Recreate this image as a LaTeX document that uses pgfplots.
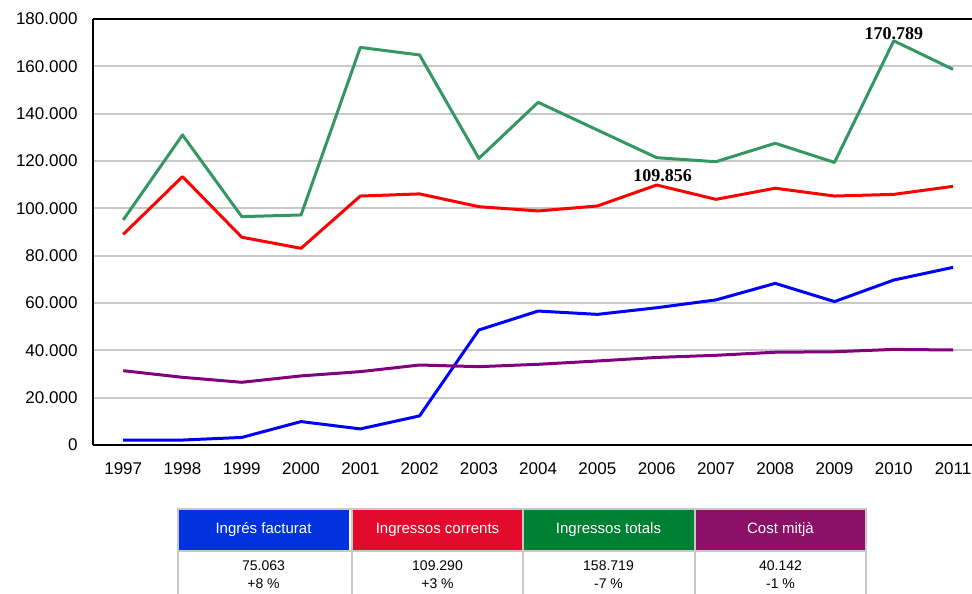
\documentclass[border=0pt]{standalone}
\usepackage{fontspec}
\setmainfont{Liberation Sans}
\newfontfamily\annfont{Liberation Serif}
\usepackage{pgfplots}
\pgfplotsset{compat=1.18}

\definecolor{cblue}{RGB}{0,0,255}
\definecolor{cred}{RGB}{255,0,0}
\definecolor{cgreen}{RGB}{52,150,96}
\definecolor{cpurple}{RGB}{128,0,128}
\definecolor{hblue}{RGB}{0,51,221}
\definecolor{hred}{RGB}{227,11,44}
\definecolor{hgreen}{RGB}{0,128,51}
\definecolor{hpurple}{RGB}{140,16,102}
\definecolor{gridc}{RGB}{200,200,200}

\begin{document}
\begin{tikzpicture}
\path[use as bounding box] (0pt,0pt) rectangle (972pt,-594pt);
\begin{axis}[
  at={(93pt,-445pt)}, anchor=south west,
  width=879pt, height=426pt, scale only axis,
  xmin=1996.49, xmax=2011.32,
  ymin=0, ymax=180000,
  axis x line*=bottom, axis y line*=left,
  axis line style={-, black, line width=1.6pt},
  xtick={1997,1998,1999,2000,2001,2002,2003,2004,2005,2006,2007,2008,2009,2010,2011},
  xticklabels={1997,1998,1999,2000,2001,2002,2003,2004,2005,2006,2007,2008,2009,2010,2011},
  ytick={0,20000,40000,60000,80000,100000,120000,140000,160000,180000},
  yticklabels={0,20.000,40.000,60.000,80.000,100.000,120.000,140.000,160.000,180.000},
  scaled y ticks=false,
  major tick length=0pt,
  ymajorgrids, grid style={gridc, line width=2pt},
  tick label style={font=\fontsize{17}{20}\selectfont},
  x tick label style={yshift=-14pt},
  y tick label style={xshift=-12pt},
  clip=false,
  every axis plot/.append style={line width=3pt, line join=round},
]
\addplot[cgreen] coordinates {
  (1997,95100) (1998,131000) (1999,96500) (2000,97200) (2001,168000)
  (2002,164800) (2003,121100) (2004,144800) (2005,133100) (2006,121400)
  (2007,119700) (2008,127500) (2009,119400) (2010,170789) (2011,158719)};
\addplot[cred] coordinates {
  (1997,89000) (1998,113400) (1999,87800) (2000,83100) (2001,105200)
  (2002,106100) (2003,100700) (2004,98900) (2005,101000) (2006,109856)
  (2007,103800) (2008,108500) (2009,105200) (2010,105900) (2011,109290)};
\addplot[cblue] coordinates {
  (1997,2100) (1998,2100) (1999,3200) (2000,9900) (2001,6800)
  (2002,12300) (2003,48600) (2004,56600) (2005,55200) (2006,58000)
  (2007,61300) (2008,68300) (2009,60600) (2010,69700) (2011,75063)};
\addplot[cpurple] coordinates {
  (1997,31400) (1998,28600) (1999,26500) (2000,29200) (2001,31000)
  (2002,33800) (2003,33100) (2004,34100) (2005,35500) (2006,37000)
  (2007,37900) (2008,39200) (2009,39400) (2010,40400) (2011,40142)};
\draw[black, line width=1.6pt] (rel axis cs:0,1) -- (rel axis cs:1.05,1);
\node[font=\annfont\bfseries\fontsize{18}{20}\selectfont, anchor=south, inner sep=1pt]
  at (axis cs:2010,170789) {170.789};
\node[font=\annfont\bfseries\fontsize{18}{20}\selectfont, anchor=south, inner sep=1pt]
  at (axis cs:2006.1,110900) {109.856};
\end{axis}

% legend table
\foreach \x/\c/\t in {178/hblue/{Ingrés facturat}, 352/hred/{Ingressos corrents},
                      523/hgreen/{Ingressos totals}, 695/hpurple/{Cost mitjà}} {
  \fill[\c] (\x pt,-509pt) rectangle ++(171pt,-42pt);
  \node[text=white, font=\fontsize{15}{18}\selectfont] at (\x pt+85.5pt,-530pt) {\t};
}
\draw[gridc, line width=1.4pt] (178pt,-509pt) rectangle (866pt,-600pt);
\foreach \x in {352,523,695} \draw[gridc, line width=1.4pt] (\x pt,-509pt) -- (\x pt,-600pt);
\draw[gridc, line width=1.4pt] (178pt,-551pt) -- (866pt,-551pt);
\foreach \x/\v/\p in {178/75.063/+8 \%, 352/109.290/+3 \%, 523/158.719/-7 \%, 695/40.142/-1 \%} {
  \node[font=\fontsize{14}{16}\selectfont] at (\x pt+85.5pt,-566pt) {\v};
  \node[font=\fontsize{14}{16}\selectfont] at (\x pt+85.5pt,-584pt) {\p};
}
\end{tikzpicture}
\end{document}
